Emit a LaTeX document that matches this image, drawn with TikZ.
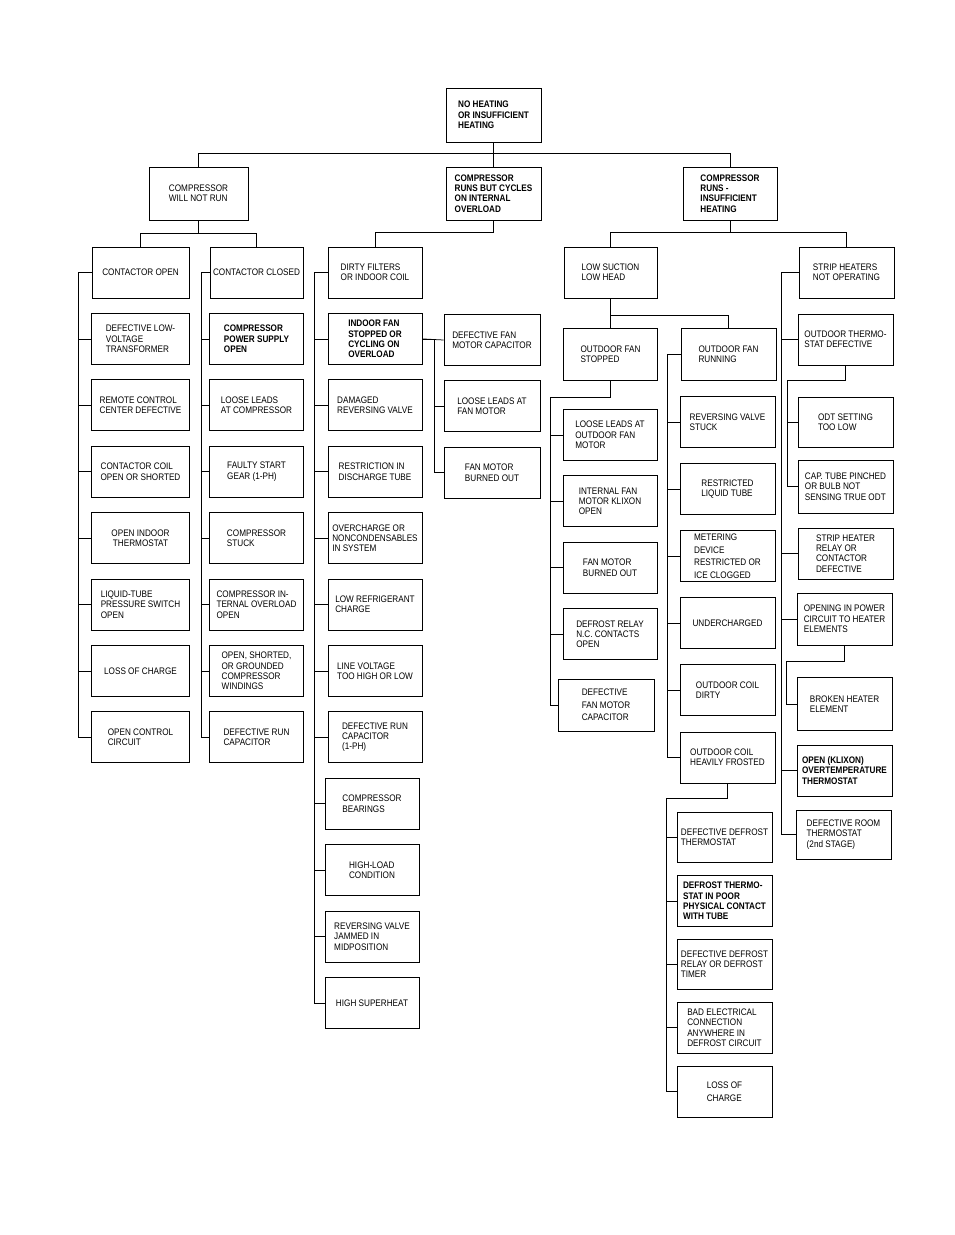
\documentclass[tikz,border=0pt]{standalone}
\usepackage{fontspec}
\newfontfamily\chartfont{Liberation Sans}[FakeStretch=0.86]
\usetikzlibrary{positioning}

\begin{document}
\begin{tikzpicture}[x=1pt,y=-1pt,
node distance=14.5pt,
box/.style={rectangle,draw,line width=0.9pt,minimum width=95pt,minimum height=51pt,
inner sep=2pt,align=left,font=\chartfont\fontsize{9.5}{10.3}\selectfont},
heavy/.style={font=\chartfont\bfseries\fontsize{9.5}{10.3}\selectfont},
loose/.style={font=\chartfont\fontsize{9.5}{12.6}\selectfont},
link/.style={line width=0.75pt}
]
\useasboundingbox (0,0) rectangle (954,1235);

% top levels
\node[box,heavy,minimum height=54pt] (root) at (493.5,115) {NO HEATING\\OR INSUFFICIENT\\HEATING};
\node[box,minimum width=99pt,minimum height=53pt] (cwnr) at (198.5,193.5) {COMPRESSOR\\WILL NOT RUN};
\node[box,heavy,minimum height=53pt] (crco) at (493.5,193.5) {COMPRESSOR\\RUNS BUT CYCLES\\ON INTERNAL\\OVERLOAD};
\node[box,heavy,minimum width=94pt,minimum height=53pt] (crih) at (730,193.5) {COMPRESSOR\\RUNS -\\INSUFFICIENT\\HEATING};

\node[box,minimum width=97pt] (co) at (140.5,272.5) {CONTACTOR OPEN};
\node[box,minimum width=93pt] (cc) at (256.5,272.5) {CONTACTOR CLOSED};
\node[box,minimum width=94pt] (df) at (375,272.5) {DIRTY FILTERS\\OR INDOOR COIL};
\node[box,minimum width=93pt] (lslh) at (610.5,272.5) {LOW SUCTION\\LOW HEAD};
\node[box] (shno) at (846.5,272.5) {STRIP HEATERS\\NOT OPERATING};

% contactor open
\node[box,minimum width=98pt,below=of co] (co1) {DEFECTIVE LOW-\\VOLTAGE\\TRANSFORMER};
\node[box,minimum width=98pt,below=of co1] (co2) {REMOTE CONTROL\\CENTER DEFECTIVE};
\node[box,minimum width=98pt,below=of co2] (co3) {CONTACTOR COIL\\OPEN OR SHORTED};
\node[box,minimum width=98pt,below=of co3,align=center] (co4) {OPEN INDOOR\\THERMOSTAT};
\node[box,minimum width=98pt,below=of co4] (co5) {LIQUID-TUBE\\PRESSURE SWITCH\\OPEN};
\node[box,minimum width=98pt,below=of co5] (co6) {LOSS OF CHARGE};
\node[box,minimum width=98pt,below=of co6] (co7) {OPEN CONTROL\\CIRCUIT};

% contactor closed
\node[box,heavy,minimum width=94pt,below=of cc] (cc1) {COMPRESSOR\\POWER SUPPLY\\OPEN};
\node[box,minimum width=94pt,below=of cc1] (cc2) {LOOSE LEADS\\AT COMPRESSOR};
\node[box,minimum width=94pt,below=of cc2] (cc3) {FAULTY START\\GEAR (1-PH)};
\node[box,minimum width=94pt,below=of cc3] (cc4) {COMPRESSOR\\STUCK};
\node[box,minimum width=94pt,below=of cc4] (cc5) {COMPRESSOR IN-\\TERNAL OVERLOAD\\OPEN};
\node[box,minimum width=94pt,below=of cc5] (cc6) {OPEN, SHORTED,\\OR GROUNDED\\COMPRESSOR\\WINDINGS};
\node[box,minimum width=94pt,below=of cc6] (cc7) {DEFECTIVE RUN\\CAPACITOR};

% dirty filters
\node[box,heavy,minimum width=94pt,below=of df] (df1) {INDOOR FAN\\STOPPED OR\\CYCLING ON\\OVERLOAD};
\node[box,minimum width=94pt,below=of df1] (df2) {DAMAGED\\REVERSING VALVE};
\node[box,minimum width=94pt,below=of df2] (df3) {RESTRICTION IN\\DISCHARGE TUBE};
\node[box,minimum width=94pt,below=of df3] (df4) {OVERCHARGE OR\\NONCONDENSABLES\\IN SYSTEM};
\node[box,minimum width=94pt,below=of df4] (df5) {LOW REFRIGERANT\\CHARGE};
\node[box,minimum width=94pt,below=of df5] (df6) {LINE VOLTAGE\\TOO HIGH OR LOW};
\node[box,minimum width=94pt,below=of df6] (df7) {DEFECTIVE RUN\\CAPACITOR\\(1-PH)};
\node[box,minimum width=94pt,below=of df7,xshift=-3pt] (df8) {COMPRESSOR\\BEARINGS};
\node[box,minimum width=94pt,below=of df8] (df9) {HIGH-LOAD\\CONDITION};
\node[box,minimum width=94pt,below=of df9] (df10) {REVERSING VALVE\\JAMMED IN\\MIDPOSITION};
\node[box,minimum width=94pt,below=of df10] (df11) {HIGH SUPERHEAT};

% indoor fan
\node[box,minimum width=96pt] (if1) at (492,340) {DEFECTIVE FAN\\MOTOR CAPACITOR};
\node[box,minimum width=96pt,below=of if1] (if2) {LOOSE LEADS AT\\FAN MOTOR};
\node[box,minimum width=96pt,below=of if2] (if3) {FAN MOTOR\\BURNED OUT};

% low suction low head
\node[box,minimum width=94pt,minimum height=52pt] (ofs) at (610.5,354) {OUTDOOR FAN\\STOPPED};
\node[box,minimum height=52pt] (ofr) at (728.5,354) {OUTDOOR FAN\\RUNNING};

\node[box,minimum width=94pt] (ofs1) at (610,435) {LOOSE LEADS AT\\OUTDOOR FAN\\MOTOR};
\node[box,minimum width=94pt,below=of ofs1] (ofs2) {INTERNAL FAN\\MOTOR KLIXON\\OPEN};
\node[box,minimum width=94pt,below=of ofs2] (ofs3) {FAN MOTOR\\BURNED OUT};
\node[box,minimum width=94pt,below=of ofs3] (ofs4) {DEFROST RELAY\\N.C. CONTACTS\\OPEN};
\node[box,loose,minimum width=96pt,minimum height=52pt] (ofs5) at (606,705) {DEFECTIVE\\FAN MOTOR\\CAPACITOR};

\node[box] (ofr1) at (727.5,422) {REVERSING VALVE\\STUCK};
\node[box,below=15.2pt of ofr1] (ofr2) {RESTRICTED\\LIQUID TUBE};
\node[box,loose,below=15.2pt of ofr2] (ofr3) {METERING\\DEVICE\\RESTRICTED OR\\ICE CLOGGED};
\node[box,below=15.2pt of ofr3] (ofr4) {UNDERCHARGED};
\node[box,below=15.2pt of ofr4] (ofr5) {OUTDOOR COIL\\DIRTY};
\node[box,below=15.2pt of ofr5] (ofr6) {OUTDOOR COIL\\HEAVILY FROSTED};

% outdoor coil heavily frosted
\node[box,minimum height=50pt] (dt1) at (724.5,837.5) {DEFECTIVE DEFROST\\THERMOSTAT};
\node[box,heavy,below=12pt of dt1] (dt2) {DEFROST THERMO-\\STAT IN POOR\\PHYSICAL CONTACT\\WITH TUBE};
\node[box,minimum height=50pt,below=12pt of dt2] (dt3) {DEFECTIVE DEFROST\\RELAY OR DEFROST\\TIMER};
\node[box,below=12pt of dt3] (dt4) {BAD ELECTRICAL\\CONNECTION\\ANYWHERE IN\\DEFROST CIRCUIT};
\node[box,loose,below=12pt of dt4] (dt5) {LOSS OF\\CHARGE};

% strip heaters
\node[box] (sh1) at (845.5,339.5) {OUTDOOR THERMO-\\STAT DEFECTIVE};
\node[box,minimum height=50pt] (sh1a) at (845.5,422) {ODT SETTING\\TOO LOW};
\node[box,minimum height=53pt] (sh1b) at (845.5,486.5) {CAP. TUBE PINCHED\\OR BULB NOT\\SENSING TRUE ODT};
\node[box] (sh2) at (845.5,553.5) {STRIP HEATER\\RELAY OR\\CONTACTOR\\DEFECTIVE};
\node[box,minimum height=52pt] (sh3) at (844.5,619) {OPENING IN POWER\\CIRCUIT TO HEATER\\ELEMENTS};
\node[box,minimum height=53pt] (sh3a) at (844.5,704) {BROKEN HEATER\\ELEMENT};
\node[box,heavy] (sh4) at (844.5,770.5) {OPEN (KLIXON)\\OVERTEMPERATURE\\THERMOSTAT};
\node[box,minimum height=49pt] (sh5) at (843.5,834.5) {DEFECTIVE ROOM\\THERMOSTAT\\(2nd STAGE)};

\coordinate (ofsj) at (550,397);
\coordinate (ocfj) at (666,798);
\coordinate (sh1j) at (787,380);
\coordinate (sh3j) at (786,661);

% links
\draw[link] (root)--(crco);
\draw[link] (root.south)--++(0,11)-|(cwnr.north); \draw[link] (root.south)--++(0,11)-|(crih.north);
\draw[link] (cwnr.south)--++(0,13)-|(co.north); \draw[link] (cwnr.south)--++(0,13)-|(cc.north);
\draw[link] (crco.south)--++(0,12)-|(df.north);
\draw[link] (crih.south)--++(0,12)-|(lslh.north); \draw[link] (crih.south)--++(0,12)-|(shno.north);

\draw[link] (co.west)--++(-13,0)|-(co1.west); \draw[link] (co.west)--++(-13,0)|-(co2.west);
\draw[link] (co.west)--++(-13,0)|-(co3.west); \draw[link] (co.west)--++(-13,0)|-(co4.west);
\draw[link] (co.west)--++(-13,0)|-(co5.west); \draw[link] (co.west)--++(-13,0)|-(co6.west);
\draw[link] (co.west)--++(-13,0)|-(co7.west);

\draw[link] (cc.west)--++(-8,0)|-(cc1.west); \draw[link] (cc.west)--++(-8,0)|-(cc2.west);
\draw[link] (cc.west)--++(-8,0)|-(cc3.west); \draw[link] (cc.west)--++(-8,0)|-(cc4.west);
\draw[link] (cc.west)--++(-8,0)|-(cc5.west); \draw[link] (cc.west)--++(-8,0)|-(cc6.west);
\draw[link] (cc.west)--++(-8,0)|-(cc7.west);

\draw[link] (df.west)--++(-13,0)|-(df1.west); \draw[link] (df.west)--++(-13,0)|-(df2.west);
\draw[link] (df.west)--++(-13,0)|-(df3.west); \draw[link] (df.west)--++(-13,0)|-(df4.west);
\draw[link] (df.west)--++(-13,0)|-(df5.west); \draw[link] (df.west)--++(-13,0)|-(df6.west);
\draw[link] (df.west)--++(-13,0)|-(df7.west); \draw[link] (df.west)--++(-13,0)|-(df8.west);
\draw[link] (df.west)--++(-13,0)|-(df9.west); \draw[link] (df.west)--++(-13,0)|-(df10.west);
\draw[link] (df.west)--++(-13,0)|-(df11.west);

\draw[link] (df1.east)--(if1.west); \draw[link] (df1.east)--++(12,0)|-(if2.west);
\draw[link] (df1.east)--++(12,0)|-(if3.west);

\draw[link] (lslh)--(ofs); \draw[link] (lslh.south)--++(0,17)-|(ofr.north);

\draw[link] (ofs.south)|-(ofsj)|-(ofs1.west); \draw[link] (ofs.south)|-(ofsj)|-(ofs2.west);
\draw[link] (ofs.south)|-(ofsj)|-(ofs3.west); \draw[link] (ofs.south)|-(ofsj)|-(ofs4.west);
\draw[link] (ofs.south)|-(ofsj)|-(ofs5.west);

\draw[link] (ofr.west)--++(-13,0)|-(ofr1.west); \draw[link] (ofr.west)--++(-13,0)|-(ofr2.west);
\draw[link] (ofr.west)--++(-13,0)|-(ofr3.west); \draw[link] (ofr.west)--++(-13,0)|-(ofr4.west);
\draw[link] (ofr.west)--++(-13,0)|-(ofr5.west); \draw[link] (ofr.west)--++(-13,0)|-(ofr6.west);

\draw[link] (ofr6.south)|-(ocfj)|-(dt1.west); \draw[link] (ofr6.south)|-(ocfj)|-(dt2.west);
\draw[link] (ofr6.south)|-(ocfj)|-(dt3.west); \draw[link] (ofr6.south)|-(ocfj)|-(dt4.west);
\draw[link] (ofr6.south)|-(ocfj)|-(dt5.west);

\draw[link] (shno.west)--++(-17,0)|-(sh1.west); \draw[link] (shno.west)--++(-17,0)|-(sh2.west);
\draw[link] (shno.west)--++(-17,0)|-(sh3.west); \draw[link] (shno.west)--++(-17,0)|-(sh4.west);
\draw[link] (shno.west)--++(-17,0)|-(sh5.west);
\draw[link] (sh1.south)|-(sh1j)|-(sh1a.west); \draw[link] (sh1.south)|-(sh1j)|-(sh1b.west);
\draw[link] (sh3.south)|-(sh3j)|-(sh3a.west);
\end{tikzpicture}
\end{document}
